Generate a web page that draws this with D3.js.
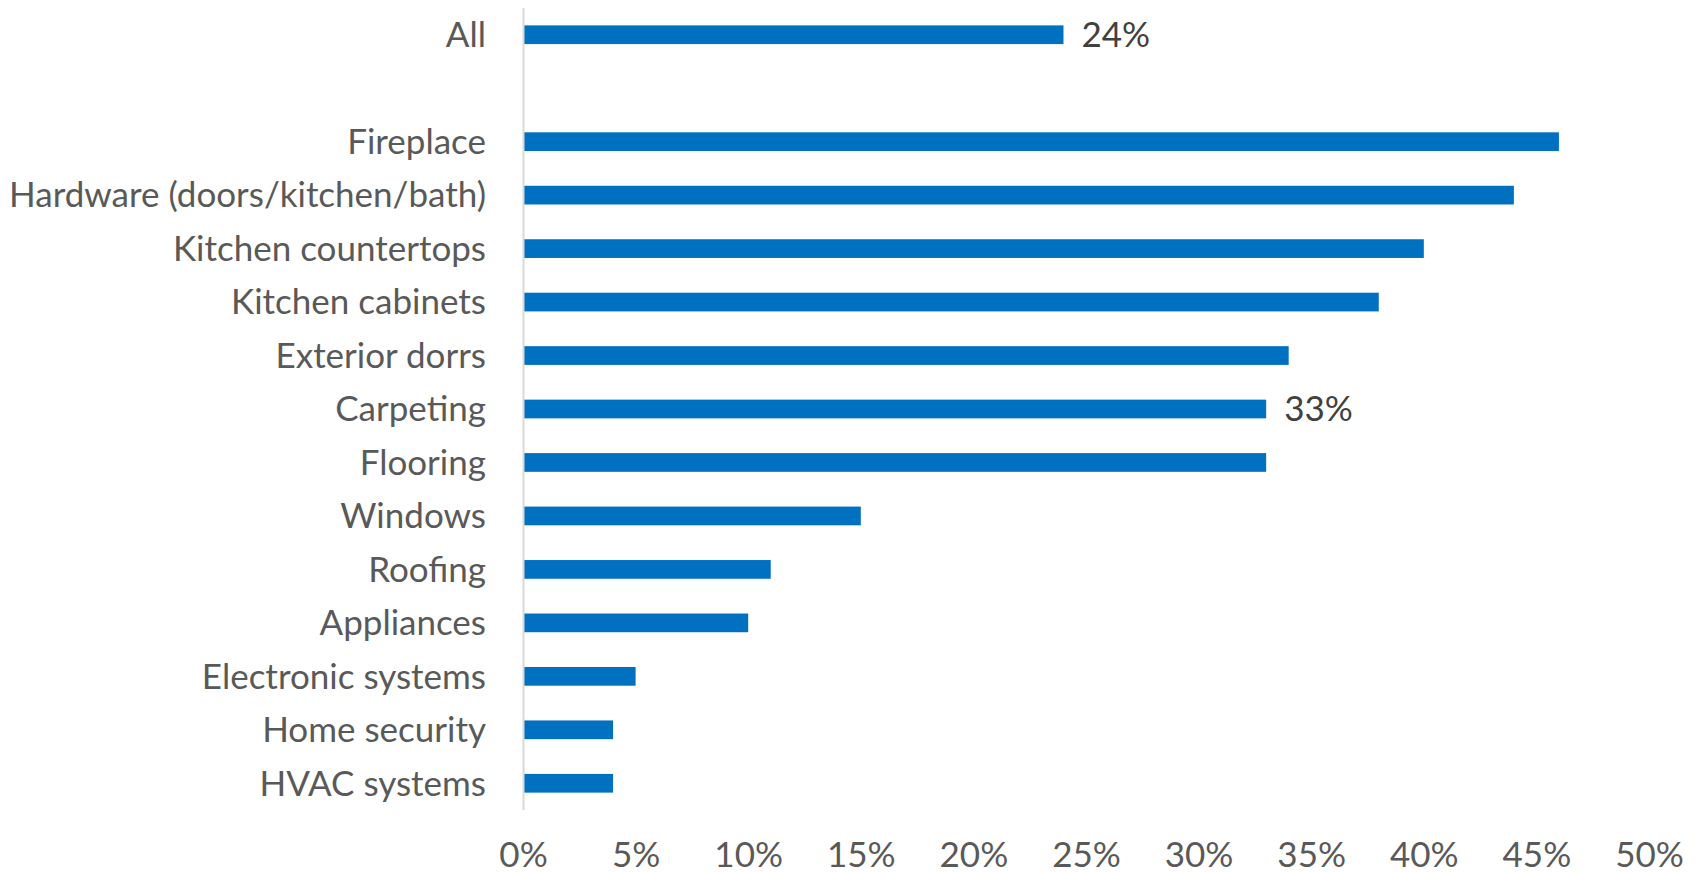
<!DOCTYPE html>
<html>
<head>
<meta charset="utf-8">
<script src="https://cdn.jsdelivr.net/npm/d3@7"></script>
<style>
  body { margin: 0; background: #fff; }
  svg text { font-family: Lato, "Open Sans", sans-serif; }
</style>
</head>
<body>
<svg width="1698" height="873"></svg>
<script>
// data (percent); the empty slot is the gap under "All"
const categories = ["All", "", "Fireplace", "Hardware (doors/kitchen/bath)", "Kitchen countertops",
  "Kitchen cabinets", "Exterior dorrs", "Carpeting", "Flooring", "Windows", "Roofing",
  "Appliances", "Electronic systems", "Home security", "HVAC systems"];
const values = [24, null, 46, 44, 40, 38, 34, 33, 33, 15, 11, 10, 5, 4, 4];
const labelled = ["All", "Carpeting"];
const xTicks = [0, 5, 10, 15, 20, 25, 30, 35, 40, 45, 50];

const rows = categories.map((c, i) => ({ cat: c, key: c || "blank", value: values[i] }));

const svg = d3.select("svg");
const plot = { left: 523, right: 1649, top: 8, bottom: 810 };
const fontSize = 35;

const x = d3.scaleLinear().domain([0, 50]).range([plot.left, plot.right]);
const y = d3.scaleBand()
  .domain(rows.map(d => d.key))
  .range([plot.top, plot.bottom])
  .paddingInner(0.65)
  .paddingOuter(0.325);

// bars
svg.append("g")
  .selectAll("rect")
  .data(rows.filter(d => d.value != null))
  .join("rect")
  .attr("x", x(0))
  .attr("y", d => y(d.key))
  .attr("width", d => x(d.value) - x(0))
  .attr("height", y.bandwidth())
  .attr("fill", "#0070c0");

// category axis
const yAxis = svg.append("g")
  .attr("transform", `translate(${plot.left},0)`)
  .call(d3.axisLeft(y).tickSize(0).tickPadding(37).tickFormat(k => k === "blank" ? "" : k));
yAxis.select(".domain")
  .attr("d", `M0.5,${plot.top}V${plot.bottom}`)
  .attr("stroke", "#d9d9d9")
  .attr("stroke-width", 2);
yAxis.selectAll("text")
  .attr("font-size", fontSize)
  .attr("font-family", null)
  .attr("fill", "#595959")
  .attr("dy", "0.35em");

// value axis (labels only)
const xAxis = svg.append("g")
  .attr("transform", `translate(0,${plot.bottom})`)
  .call(d3.axisBottom(x).tickValues(xTicks).tickSize(0).tickFormat(d => d + "%"));
xAxis.select(".domain").remove();
xAxis.selectAll("text")
  .attr("font-size", fontSize)
  .attr("font-family", null)
  .attr("fill", "#595959")
  .attr("y", 57)
  .attr("dy", null);

// data labels
svg.append("g")
  .selectAll("text")
  .data(rows.filter(d => labelled.includes(d.cat)))
  .join("text")
  .attr("x", d => x(d.value) + 18)
  .attr("y", d => y(d.key) + y.bandwidth() / 2)
  .attr("dy", "0.35em")
  .attr("font-size", fontSize)
  .attr("fill", "#404040")
  .text(d => d.value + "%");
</script>
</body>
</html>
